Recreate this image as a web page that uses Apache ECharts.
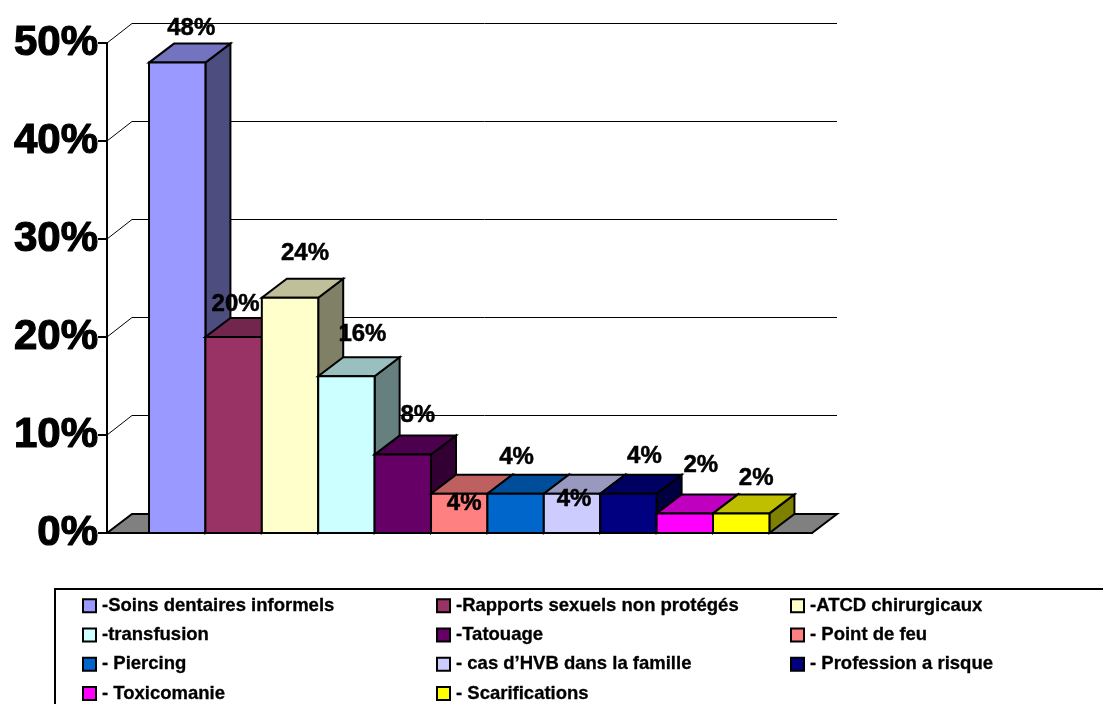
<!DOCTYPE html>
<html>
<head>
<meta charset="utf-8">
<style>html,body{margin:0;padding:0;background:#fff;overflow:hidden}#c{width:1103px;height:704px}</style>
<script src="https://cdn.jsdelivr.net/npm/echarts@6/dist/echarts.min.js"></script>
</head>
<body>
<div id="c"></div>
<script>
const categories = ['-Soins dentaires informels','-Rapports sexuels non protégés','-ATCD chirurgicaux','-transfusion','-Tatouage','- Point de feu','- Piercing','- cas d’HVB dans la famille','- Profession a risque','- Toxicomanie','- Scarifications'];
const values = [48,20,24,16,8,4,4,4,4,2,2];
const colors = ['#9999FF','#993366','#FFFFCC','#CCFFFF','#660066','#FF8080','#0066CC','#CCCCFF','#000080','#FF00FF','#FFFF00'];
const yTicks = [0,10,20,30,40,50];
// hand-placed data label offsets (px) from the top centre of each bar's front face
const labelNudges = [[14,-34],[2,-33],[15,-44],[16,-42],[15,-39],[5,10],[1,-36],[2,6],[16,-37],[16,-48],[15,-35]];

const DX = 25, DY = 19;          // 3D depth of the box
const FIRST = 0.745, XMAX = 12.5; // category band, in bar widths
const FONT = '"Liberation Sans", Arial, sans-serif';

function shade(hex, k) {
  const n = parseInt(hex.slice(1), 16);
  const c = s => Math.round(((n >> s) & 255) * k);
  return 'rgb(' + c(16) + ',' + c(8) + ',' + c(0) + ')';
}
const edge = { stroke: '#000', lineWidth: 2, lineJoin: 'miter' };

const wall = {
  type: 'custom', silent: true, clip: false, z: 2,
  coordinateSystem: 'cartesian2d',
  data: yTicks.map(v => [0, v]),
  encode: { x: 0, y: 1 },
  renderItem(p, api) {
    const v = api.value(1);
    const a = api.coord([0, v]), b = api.coord([XMAX, v]);
    const kids = [];
    if (v === 0) {
      kids.push({ type: 'polygon', shape: { points: [a, [a[0]+DX, a[1]-DY], [b[0]+DX, b[1]-DY], b] },
        style: { fill: '#808080', stroke: '#000', lineWidth: 2 } });
    } else {
      kids.push({ type: 'polyline', shape: { points: [a, [a[0]+DX, a[1]-DY-0.5], [b[0]+DX, b[1]-DY-0.5]] },
        style: { fill: 'none', stroke: '#000', lineWidth: 1 } });
    }
    return { type: 'group', children: kids };
  }
};

function barSeries(i) {
  return {
    type: 'custom', name: categories[i], silent: true, clip: false, z: 3,
    coordinateSystem: 'cartesian2d',
    itemStyle: { color: colors[i] },
    data: [[FIRST + i, values[i]]],
    encode: { x: 0, y: 1 },
    renderItem(p, api) {
      const x = api.value(0), v = api.value(1);
      const tl = api.coord([x, v]), tr = api.coord([x + 1, v]);
      const bl = api.coord([x, 0]), br = api.coord([x + 1, 0]);
      const w = tr[0] - tl[0], h = bl[1] - tl[1];
      const n = labelNudges[i];
      return { type: 'group', children: [
        { type: 'polygon', shape: { points: [tr, br, [br[0]+DX, br[1]-DY], [tr[0]+DX, tr[1]-DY]] },
          style: Object.assign({ fill: shade(colors[i], 0.5) }, edge) },
        { type: 'polygon', shape: { points: [tl, tr, [tr[0]+DX, tr[1]-DY], [tl[0]+DX, tl[1]-DY]] },
          style: Object.assign({ fill: shade(colors[i], 0.75) }, edge) },
        { type: 'rect', shape: { x: tl[0], y: tl[1], width: w, height: h },
          style: Object.assign({ fill: colors[i] }, edge) },
        { type: 'text', z2: 100, x: tl[0] + w/2 + n[0], y: tl[1] + n[1],
          style: { text: values[i] + '%', fill: '#000', align: 'center', verticalAlign: 'middle',
                   font: 'bold 24px ' + FONT, stroke: '#000', lineWidth: 0.5 } }
      ] };
    }
  };
}

function legendCol(left, idx) {
  return {
    left, top: 596, height: 130, orient: 'vertical', itemGap: 10, itemWidth: 13, itemHeight: 13,
    icon: 'rect', selectedMode: false, padding: 0,
    data: idx.map(i => categories[i]),
    itemStyle: { borderColor: '#000', borderWidth: 2 },
    textStyle: { color: '#000', fontFamily: FONT, fontWeight: 'bold', fontSize: 18.5, lineHeight: 13, padding: [0,0,0,1],
      textBorderColor: '#000', textBorderWidth: 0.3 }
  };
}

const chart = echarts.init(document.getElementById('c'), null, { renderer: 'canvas' });
chart.setOption({
  animation: false,
  backgroundColor: '#fff',
  grid: { left: 107, right: 291, top: 43, bottom: 171 },
  xAxis: { type: 'value', min: 0, max: XMAX, axisLabel: { show: false }, axisTick: { show: false },
    splitLine: { show: false }, axisLine: { show: true, onZero: false, lineStyle: { color: '#000', width: 2 } } },
  yAxis: { type: 'value', min: 0, max: 50, interval: 10,
    splitLine: { show: false },
    axisLine: { show: true, lineStyle: { color: '#000', width: 2 } },
    axisTick: { show: true, length: 9, lineStyle: { color: '#000', width: 2 } },
    axisLabel: { margin: 9, formatter: '{value}%', color: '#000', fontFamily: FONT, fontWeight: 'bold', fontSize: 42, padding: [0,0,8,0],
      textBorderColor: '#000', textBorderWidth: 1.2 } },
  legend: [legendCol(82, [0,3,6,9]), legendCol(436, [1,4,7,10]), legendCol(790, [2,5,8])],
  graphic: [{ type: 'rect', silent: true, shape: { x: 55, y: 589, width: 1150, height: 200 },
    style: { fill: 'none', stroke: '#000', lineWidth: 2 } }],
  series: [wall].concat(categories.map((c, i) => barSeries(i)))
});
</script>
</body>
</html>
